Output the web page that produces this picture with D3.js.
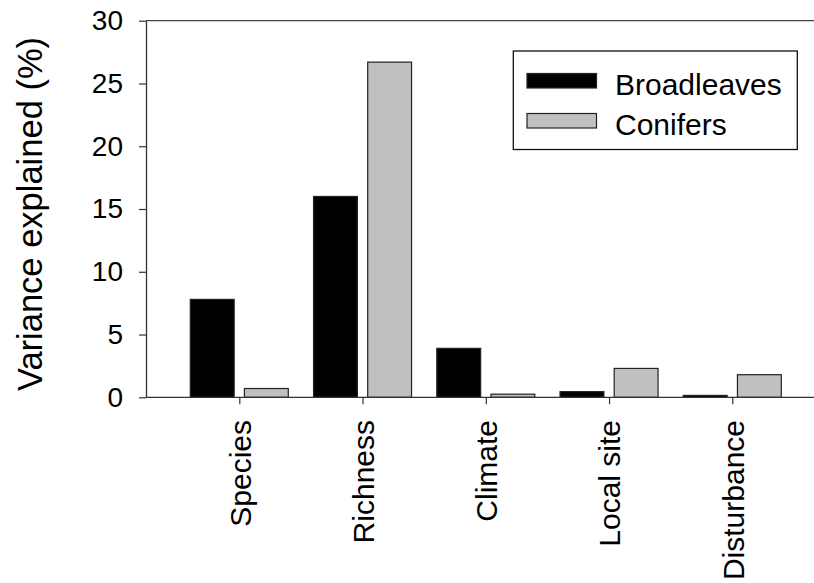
<!DOCTYPE html>
<html>
<head>
<meta charset="utf-8">
<script src="https://cdn.jsdelivr.net/npm/d3@7"></script>
<style>
  html, body { margin: 0; padding: 0; background: #fff; }
  svg { display: block; font-family: "Liberation Sans", Arial, Helvetica, sans-serif; }
</style>
</head>
<body>
<svg id="chart" width="814" height="583"></svg>
<script>
// Variance explained by each predictor group, per forest type (%)
const categories = ["Species", "Richness", "Climate", "Local site", "Disturbance"];
const seriesNames = ["Broadleaves", "Conifers"];
const broadleaves = [7.8, 16.0, 3.9, 0.45, 0.15];
const conifers = [0.7, 26.7, 0.25, 2.3, 1.8];
const yTicks = [0, 5, 10, 15, 20, 25, 30];
const seriesColors = ["#000000", "#c0c0c0"];

const svg = d3.select("#chart");

const plotLeft = 146, plotRight = 830, plotTop = 20.7, plotBottom = 397.3;

const y = d3.scaleLinear().domain([0, 30]).range([plotBottom, plotTop]);
const x = d3.scalePoint().domain(categories).range([239.3, 732.3]);
const xSub = d3.scaleBand().domain(seriesNames).range([-49, 49]).paddingInner(0.19);

const rows = categories.map((c, i) => ({ cat: c, values: [broadleaves[i], conifers[i]] }));

// Bars
const groups = svg.append("g").selectAll("g")
  .data(rows).join("g")
  .attr("transform", d => `translate(${x(d.cat)},0)`);

groups.selectAll("rect")
  .data(d => d.values.map((v, j) => ({ name: seriesNames[j], v, j })))
  .join("rect")
  .attr("x", d => xSub(d.name))
  .attr("width", xSub.bandwidth())
  .attr("y", d => y(d.v))
  .attr("height", d => y(0) - y(d.v))
  .attr("fill", d => seriesColors[d.j])
  .attr("stroke", "#222")
  .attr("stroke-width", 1.2);

// Top frame line
svg.append("line")
  .attr("x1", plotLeft).attr("x2", plotRight)
  .attr("y1", plotTop).attr("y2", plotTop)
  .attr("stroke", "#444").attr("stroke-width", 1.3);

// Y axis
const yAxis = svg.append("g")
  .attr("transform", `translate(${plotLeft},0)`)
  .call(d3.axisLeft(y).tickValues(yTicks).tickSize(7).tickPadding(16).tickSizeOuter(0));
yAxis.select(".domain").attr("stroke", "#333").attr("stroke-width", 1.3);
yAxis.selectAll(".tick line").attr("stroke", "#333").attr("stroke-width", 1.2);
yAxis.selectAll(".tick text")
  .attr("font-size", 28)
  .attr("font-family", "Liberation Sans, Arial, sans-serif")
  .attr("fill", "#000");

// X axis
const xAxisG = svg.append("g").attr("transform", `translate(0,${plotBottom})`);
xAxisG.append("line")
  .attr("x1", plotLeft).attr("x2", plotRight)
  .attr("y1", 0).attr("y2", 0)
  .attr("stroke", "#333").attr("stroke-width", 1.3);
const xAxis = xAxisG.append("g")
  .call(d3.axisBottom(x).tickSize(7).tickSizeOuter(0));
xAxis.select(".domain").remove();
xAxis.selectAll(".tick line").attr("stroke", "#333").attr("stroke-width", 1.2);
xAxis.selectAll(".tick text")
  .attr("font-size", 30)
  .attr("font-family", "Liberation Sans, Arial, sans-serif")
  .attr("fill", "#000")
  .attr("text-anchor", "end")
  .attr("transform", "rotate(-90)")
  .attr("x", -22.7)
  .attr("y", 0)
  .attr("dy", "0.36em");

// Y axis title
svg.append("text")
  .attr("transform", "translate(41.7,214) rotate(-90)")
  .attr("text-anchor", "middle")
  .attr("font-size", 34.5)
  .attr("fill", "#000")
  .text("Variance explained (%)");

// Legend
const legend = svg.append("g");
legend.append("rect")
  .attr("x", 513.3).attr("y", 51)
  .attr("width", 284).attr("height", 98.5)
  .attr("fill", "#fff")
  .attr("stroke", "#111").attr("stroke-width", 1.3);

const items = legend.selectAll("g.item")
  .data(seriesNames).join("g")
  .attr("class", "item")
  .attr("transform", (d, i) => `translate(0,${i * 40})`);

items.append("rect")
  .attr("x", 527).attr("y", 73.5)
  .attr("width", 69.5).attr("height", 14.5)
  .attr("fill", (d, i) => seriesColors[i])
  .attr("stroke", "#222").attr("stroke-width", 1.2);

items.append("text")
  .attr("x", 615).attr("y", 94.5)
  .attr("font-size", 30)
  .attr("fill", "#000")
  .text(d => d);
</script>
</body>
</html>
